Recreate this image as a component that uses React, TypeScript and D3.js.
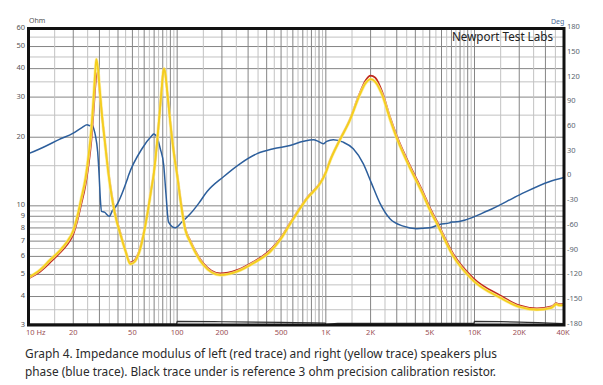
import React from 'react';
import * as d3 from 'd3';

// impedance, right speaker (yellow)
const yellowFreq = [10, 12, 14, 16, 18, 20, 21.3, 22.5, 24.2, 25.3, 26.5, 27.5, 28.2, 28.6, 29.2, 30.2, 31.2, 32.5, 34.6, 38, 42, 45, 48.4, 52, 56.6, 62.7, 67, 69.6, 73, 76, 78.5, 80.5, 81.5, 83, 86, 90, 95, 100, 106, 113, 123, 150, 195, 252, 326, 423, 494, 574, 742, 941, 1000, 1070, 1240, 1450, 1667, 1850, 2000, 2150, 2400, 2700, 3000, 3530, 4530, 5000, 5560, 7200, 9800, 14900, 20000, 26300, 33000, 35500, 37000, 40000];
const yellowOhm = [4.85, 5.25, 5.8, 6.3, 6.9, 7.8, 9.0, 10.6, 13.3, 16.5, 22, 31, 40, 44, 41, 32, 25, 19.5, 13.6, 9.3, 7.3, 6.3, 5.55, 5.7, 6.5, 9.0, 11.8, 13.8, 18.5, 25, 32, 38.5, 40, 38.5, 31, 23, 17, 13.6, 10.2, 7.9, 6.9, 5.5, 4.97, 5.14, 5.6, 6.3, 7.1, 8.3, 10.7, 12.9, 14.0, 15.8, 19.4, 23.7, 30, 34.5, 36, 35, 30.5, 24, 19.8, 15.5, 11.1, 9.6, 8.4, 6.0, 4.7, 3.95, 3.6, 3.5, 3.57, 3.7, 3.66, 3.68];

// impedance, left speaker (red)
const redFreq = [10, 12, 14, 16, 18, 20, 21.3, 22.5, 24.2, 25.3, 26.5, 27.5, 28.2, 28.6, 29.2, 30.2, 31.2, 32.5, 34.6, 38, 42, 45, 48.4, 52, 56.6, 62.7, 67, 69.6, 73, 76, 78.5, 80.5, 81.5, 83, 86, 90, 95, 100, 106, 113, 123, 150, 195, 252, 326, 423, 494, 574, 742, 941, 1000, 1070, 1240, 1450, 1667, 1850, 2000, 2150, 2400, 2700, 3000, 3530, 4530, 5000, 5560, 7200, 9800, 14900, 20000, 26300, 33000, 35500, 37000, 40000];
const redOhm = [4.8, 5.15, 5.65, 6.15, 6.7, 7.5, 8.6, 10.0, 12.4, 15, 19.5, 27, 34, 37.5, 38.5, 31, 25, 19.8, 13.9, 9.5, 7.4, 6.35, 5.65, 5.8, 6.6, 9.1, 11.9, 13.9, 18.5, 25, 32, 38.5, 40, 38.5, 31, 23.2, 17.3, 13.8, 10.4, 8.05, 7.0, 5.6, 5.05, 5.22, 5.68, 6.4, 7.2, 8.4, 10.8, 13.0, 14.1, 15.9, 19.5, 23.9, 30.5, 35.5, 37.3, 36.5, 31.5, 24.6, 20.3, 15.9, 11.4, 9.85, 8.6, 6.15, 4.82, 4.04, 3.66, 3.55, 3.62, 3.74, 3.7, 3.72];

// phase (blue), degrees
const phaseFreq = [10, 13, 16, 20, 23, 24.8, 25.8, 26.8, 27.5, 28.2, 29.2, 29.9, 30.5, 31, 32.4, 35, 36.7, 38.4, 46, 47.2, 58, 67.7, 69.5, 73.2, 77, 81.2, 84, 87.5, 97, 107.6, 122.6, 140, 159, 205, 266, 345, 444, 574, 707, 826, 890, 962, 1013, 1123, 1310, 1530, 1785, 2030, 2310, 2700, 3320, 4080, 5000, 5830, 6800, 7000, 7300, 12400, 20100, 31800, 40000];
const phaseDeg = [28, 37, 45, 53, 60, 63, 62, 63, 58, 50, 30, 0, -30, -42, -43, -48, -41, -37, -4, 2, 34, 50, 52, 48, 34, 14, -20, -55, -62, -55, -45, -32, -18, 0, 16, 28, 34, 38, 43, 45, 43, 40, 43, 45, 42, 34, 16, -8, -32, -51, -60, -63, -62, -58, -56, -55, -55, -41, -22, -6, -1];

// 3 ohm calibration resistor (black)
const refFreq = [10, 99, 100, 200, 500, 990, 1000, 1200, 2000, 5000, 9900, 10000, 20000, 40000];
const refOhm = [3.03, 3.03, 3.11, 3.1, 3.08, 3.06, 3.02, 3.05, 3.05, 3.05, 3.05, 3.11, 3.09, 3.04];

const ohmTicks = [3, 4, 5, 6, 7, 8, 9, 10, 20, 30, 40, 50, 60];
const degTicks = [-180, -150, -120, -90, -60, -30, 0, 30, 60, 90, 120, 150, 180];
const freqTicks = [10, 20, 50, 100, 200, 500, 1000, 2000, 5000, 10000, 20000, 40000];
const freqTickLabels = ['10 Hz', '20', '50', '100', '200', '500', '1K', '2K', '5K', '10K', '20K', '40K'];

const W = 603;
const H = 385;
const L = 28.5;
const R = 564;
const T = 28.5;
const B = 325;

const x = d3.scaleLog().domain([10, 40000]).range([L, R]);
const yOhm = d3.scaleLog().domain([3, 60]).range([B, T]);
const yDeg = d3.scaleLinear().domain([-180, 180]).range([B, T]);

// grid: 1, 1.5, 2 ... 9.5 per decade
const vGrid: { v: number; major: boolean }[] = [];
[10, 100, 1000, 10000].forEach((dec) => {
  for (let m = 1; m < 10; m += 0.5) {
    const v = dec * m;
    if (v > 10 && v < 40000) vGrid.push({ v, major: Number.isInteger(m) });
  }
});
const hGrid: { v: number; major: boolean }[] = [];
for (let v = 3.5; v < 10; v += 0.5) hGrid.push({ v, major: Number.isInteger(v) });
for (let v = 10; v < 60; v += 5) hGrid.push({ v, major: v % 10 === 0 });

const ohmLine = (fs: number[], vs: number[]) =>
  d3
    .line<number>()
    .x((_, i) => x(fs[i]))
    .y((v) => yOhm(v))
    .curve(d3.curveMonotoneX)(vs) as string;

const degLine = d3
  .line<number>()
  .x((_, i) => x(phaseFreq[i]))
  .y((v) => yDeg(v))
  .curve(d3.curveMonotoneX);

const lblFont = '"Noto Sans", "Open Sans", sans-serif';

export default function App() {
  return (
    <svg
      width={W}
      height={H}
      style={{ position: 'absolute', left: 0, top: 0, background: '#fff' }}
    >
      <defs>
        <clipPath id="plot">
          <rect x={L} y={T} width={R - L} height={B - T} />
        </clipPath>
      </defs>
      <rect width={W} height={H} fill="#fff" />

      {/* grid */}
      {hGrid.map((g) => (
        <line
          key={'h' + g.v}
          x1={L}
          x2={R}
          y1={yOhm(g.v)}
          y2={yOhm(g.v)}
          stroke={g.major ? '#858585' : '#c2c2c2'}
          strokeWidth={1}
        />
      ))}
      {vGrid.map((g) => (
        <line
          key={'v' + g.v}
          x1={x(g.v)}
          x2={x(g.v)}
          y1={T}
          y2={B}
          stroke={g.major ? '#858585' : '#c2c2c2'}
          strokeWidth={1}
        />
      ))}

      <text
        x={452}
        y={41}
        fontFamily={lblFont}
        fontSize={13}
        fill="#222"
        textLength={101}
        lengthAdjust="spacingAndGlyphs"
      >
        Newport Test Labs
      </text>

      {/* traces */}
      <g clipPath="url(#plot)" fill="none" strokeLinejoin="round">
        <path d={ohmLine(refFreq, refOhm)} stroke="#333" strokeWidth={1.2} />
        <path d={degLine(phaseDeg) as string} stroke="#2d5f9c" strokeWidth={1.5} />
        <path d={ohmLine(redFreq, redOhm)} stroke="#c0281d" strokeWidth={1.8} />
        <path d={ohmLine(yellowFreq, yellowOhm)} stroke="#fbeb95" strokeWidth={3.2} opacity={0.8} />
        <path d={ohmLine(yellowFreq, yellowOhm)} stroke="#f5cf1c" strokeWidth={1.8} />
      </g>

      {/* frame */}
      <rect x={L} y={T} width={R - L} height={B - T} fill="none" stroke="#111" strokeWidth={3} />

      {/* left axis */}
      <text x={29} y={23} fontFamily={lblFont} fontSize={7} fill="#555">
        Ohm
      </text>
      {ohmTicks.map((t) => (
        <text
          key={'o' + t}
          x={25}
          y={yOhm(t) - 1}
          dy="0.35em"
          textAnchor="end"
          fontFamily={lblFont}
          fontSize={7.5}
          fill="#555"
        >
          {t}
        </text>
      ))}

      {/* right axis */}
      <text x={551} y={24} fontFamily={lblFont} fontSize={7} fill="#4a6a96">
        Deg
      </text>
      {degTicks.map((t) => (
        <text
          key={'d' + t}
          x={567}
          y={yDeg(t) - 2}
          dy="0.35em"
          fontFamily={lblFont}
          fontSize={7.5}
          fill="#5a6670"
        >
          {t}
        </text>
      ))}

      {/* bottom axis */}
      {freqTicks.map((t, i) => (
        <text
          key={'f' + t}
          x={i === 0 ? 26 : i === freqTicks.length - 1 ? x(t) - 1 : x(t)}
          y={335}
          textAnchor={i === 0 ? 'start' : 'middle'}
          fontFamily={lblFont}
          fontSize={7.5}
          fill="#9a4f55"
        >
          {freqTickLabels[i]}
        </text>
      ))}

      {/* caption */}
      <text
        x={25}
        y={358}
        fontFamily={lblFont}
        fontSize={13}
        fill="#2b2b2b"
        textLength={472}
        lengthAdjust="spacingAndGlyphs"
      >
        Graph 4. Impedance modulus of left (red trace) and right (yellow trace) speakers plus
      </text>
      <text
        x={25}
        y={376}
        fontFamily={lblFont}
        fontSize={13}
        fill="#2b2b2b"
        textLength={471}
        lengthAdjust="spacingAndGlyphs"
      >
        phase (blue trace). Black trace under is reference 3 ohm precision calibration resistor.
      </text>
    </svg>
  );
}
